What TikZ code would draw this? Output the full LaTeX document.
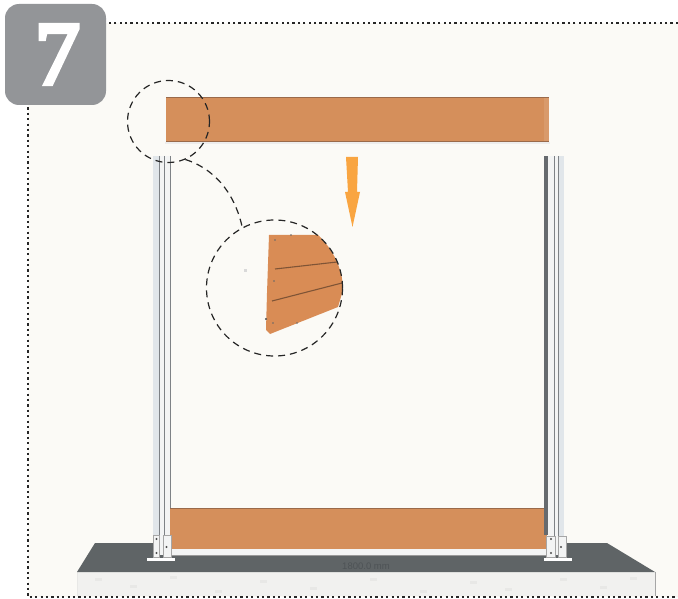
\documentclass[tikz,border=0pt]{standalone}
\usepackage{fontspec}
\setmainfont{Liberation Sans}
\newfontfamily\badgefont[FakeBold=5]{Liberation Serif}
\definecolor{cream}{HTML}{FBFAF6}
\definecolor{badge}{HTML}{939598}
\definecolor{wood}{HTML}{D58F5B}
\definecolor{wooddetail}{HTML}{D98C55}
\definecolor{woodedge}{HTML}{9A6A4A}
\definecolor{woodline}{HTML}{7F5436}
\definecolor{slab}{HTML}{5F6466}
\definecolor{slabtext}{HTML}{4E5356}
\definecolor{concrete}{HTML}{F1F1EF}
\definecolor{speck}{HTML}{E8E8E6}
\definecolor{postlight}{HTML}{E1E6EA}
\definecolor{postwhite}{HTML}{F3F4F4}
\definecolor{postline}{HTML}{7E8286}
\definecolor{postdark}{HTML}{666A6E}
\definecolor{arroworange}{HTML}{F9A541}
\tikzset{
  lens/.style={circle,draw=black!85,dash pattern=on 7pt off 5pt,line width=1.2pt,inner sep=0pt,fill=none},
  leader/.style={draw=black!85,dash pattern=on 7pt off 5pt,line width=1.2pt},
  frame/.style={draw=black!85,line width=1.4pt,dash pattern=on 2.2pt off 3.2pt},
  gline/.style={draw=postline,line width=.9pt},
  darkdot/.style={fill=black!70,circle,inner sep=0pt,minimum size=2.4pt},
  finedot/.style={fill=black!60,circle,inner sep=0pt,minimum size=1.8pt},
}
\begin{document}
\begin{tikzpicture}[x=1pt,y=-1pt]
\useasboundingbox (0,0) rectangle (678,599);
\fill[white] (0,0) rectangle (678,599);
% background and dotted frame
\fill[cream] (28,23) rectangle (678,597);
\draw[frame] (678,23) -- (28,23) -- (28,597) -- (678,597);
% slab
\fill[concrete] (77,572) rectangle (655,596);
\foreach \a/\b in {95/578,130/585,170/576,215/590,260/580,310/587,370/578,420/590,470/581,505/588,560/578,600/586,630/577}
  \fill[speck] (\a,\b) rectangle +(7,3);
\draw[speck,line width=.8pt] (77,572) -- (77,596);
\draw[black!35,line width=.6pt] (655,572) -- (655,596);
\fill[slab] (77,572) -- (95,543) -- (607,543) -- (655,572) -- cycle;
\node[text=slabtext,font=\fontsize{9.5}{10}\selectfont] (dim) at (366,566) {1800.0 mm};
% lower panel
\fill[wood] (170,508) rectangle (547,549);
\draw[woodedge,line width=1pt] (170,508) -- (547,508);
\fill[postwhite] (170,549) rectangle (547,555);
\draw[black!40,line width=.5pt] (170,555) -- (547,555);
% left post
\fill[postlight] (153,156) rectangle (159,555);
\fill[postwhite] (159,156) rectangle (170,555);
\draw[gline] (159,156) -- (159,555);
\draw[gline] (164.5,156) -- (164.5,555);
\draw[gline] (170.5,156) -- (170.5,508);
% right post
\fill[postdark] (543.5,156) rectangle (547.5,535);
\fill[postwhite] (547.5,156) rectangle (558,555);
\fill[postlight] (558,156) rectangle (564,555);
\draw[gline] (554,156) -- (554,555);
\draw[gline] (558,156) -- (558,555);
% left brackets
\fill[postwhite,draw=black!35,line width=.4pt] (153,535) rectangle (159,557);
\fill[postwhite,draw=black!35,line width=.4pt] (163,535) rectangle (171,557);
\fill[white] (147,558) rectangle (175,560.5);
\node[darkdot] (l1) at (156.5,539) {};
\node[darkdot] (l2) at (156.5,553) {};
\node[darkdot] (l3) at (166.5,547) {};
% right brackets
\fill[postwhite,draw=black!35,line width=.4pt] (546,536) rectangle (555,557);
\fill[postwhite,draw=black!35,line width=.4pt] (558,536) rectangle (566,557);
\fill[white] (544,558) rectangle (572,560.5);
\node[darkdot] (r1) at (551,539) {};
\node[darkdot] (r2) at (551,553) {};
\node[darkdot] (r3) at (561,547) {};
% beam
\fill[black!7] (165,142) rectangle (550,144.5);
\fill[wood] (166,97) rectangle (549,142);
\fill[wood!90!white] (544,98) rectangle (549,141);
\draw[woodedge,line width=1.1pt] (166,97.5) -- (549,97.5);
\draw[woodedge,line width=1pt] (166,141.5) -- (549,141.5);
% arrow
\fill[arroworange] (346,157) -- (358,157) -- (357,192) -- (360,192) -- (352.5,227) -- (345,192) -- (348,192) -- cycle;
% detail
\path[fill=wooddetail] (269,235) -- (318,235) .. controls (332,248) and (343,268) .. (343,290) -- (338,307) -- (270,334) -- (266,330) -- (267,293) -- cycle;
\draw[woodline,line width=1.1pt] (275,269) -- (337,262);
\draw[woodline,line width=1.1pt] (272,301) -- (342,283);
\node[finedot] (d1) at (275,240) {};
\node[finedot] (d2) at (291,235) {};
\node[finedot] (d3) at (274,281) {};
\node[darkdot] (d4) at (266,319) {};
\node[finedot] (d5) at (273,323) {};
\node[finedot] (d6) at (297,323) {};
\fill[black!15] (244,269) rectangle (247,272);
% lenses
\node[lens,minimum size=82pt] (small) at (168.5,121.5) {};
\node[lens,minimum size=136pt] (big) at (274.5,288) {};
\draw[leader] (small.-66) .. controls (212,168) and (234,190) .. (big.118);
% badge
\fill[badge,rounded corners=14pt] (5,4) rectangle (106,105);
\node[text=white,font=\badgefont\fontsize{90}{90}\selectfont,inner sep=0pt] (seven) at (57.5,54.5) {7};
\end{tikzpicture}
\end{document}
